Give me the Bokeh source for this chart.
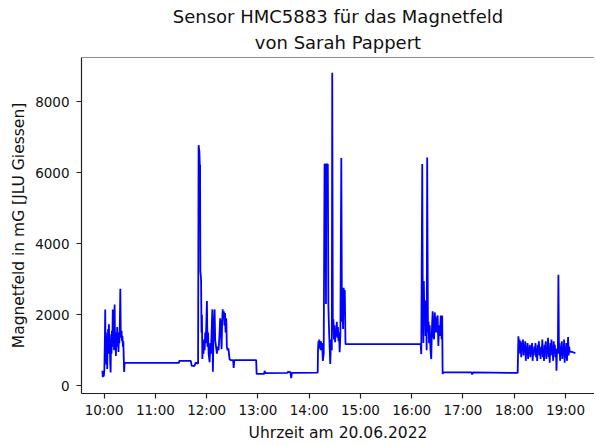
import pandas as pd
from bokeh.plotting import figure
from bokeh.models import FixedTicker, DatetimeTickFormatter, Range1d, Span, Title, ColumnDataSource
from bokeh.embed import file_html
from bokeh.resources import INLINE

DATE = "2022-06-20"
title_line1 = "Sensor HMC5883 für das Magnetfeld"
title_line2 = "von Sarah Pappert"
x_label = "Uhrzeit am 20.06.2022"
y_label = "Magnetfeld in mG [JLU Giessen]"

x_tick_labels = ["10:00", "11:00", "12:00", "13:00", "14:00", "15:00",
                 "16:00", "17:00", "18:00", "19:00"]
y_ticks = [0, 2000, 4000, 6000, 8000]

times = [
    "09:58:00", "09:58:30", "09:59:10", "09:59:40", "10:00:20", "10:01:00", "10:01:20", "10:01:40",
    "10:02:10", "10:02:40", "10:03:10", "10:03:40", "10:04:10", "10:04:40", "10:05:10", "10:05:40",
    "10:06:10", "10:06:40", "10:07:10", "10:07:40", "10:08:10", "10:08:40", "10:09:10", "10:09:40",
    "10:10:10", "10:10:40", "10:11:10", "10:11:40", "10:12:20", "10:12:50", "10:13:20", "10:13:50",
    "10:14:20", "10:14:50", "10:15:20", "10:15:50", "10:16:20", "10:16:50", "10:17:20", "10:17:50",
    "10:18:20", "10:19:00", "10:19:30", "10:20:00", "10:20:30", "10:21:00", "10:21:30", "10:22:00",
    "10:22:30", "10:23:00", "10:23:30", "10:24:00",
    "11:27:30", "11:28:00", "11:41:30", "11:42:30", "11:46:00", "11:47:00",
    "11:50:00", "11:50:36", "11:51:30", "11:52:00", "11:52:20", "11:52:40", "11:53:30", "11:54:00",
    "11:54:30", "11:55:00", "11:55:40", "11:56:20", "11:57:00", "11:57:40", "11:58:20", "11:59:00",
    "12:00:20", "12:01:00", "12:01:40", "12:02:20", "12:03:30", "12:04:20", "12:05:00", "12:06:40",
    "12:07:20", "12:08:00", "12:09:20", "12:10:00", "12:11:00", "12:12:00", "12:13:00", "12:14:00",
    "12:15:10", "12:15:50", "12:16:30", "12:17:30", "12:18:10", "12:18:50", "12:19:30", "12:20:10",
    "12:20:50", "12:21:30", "12:22:10", "12:23:00", "12:23:40", "12:24:30", "12:25:30", "12:26:50",
    "12:28:00", "12:31:00", "12:31:40", "12:32:20", "12:58:00", "12:58:30",
    "13:07:20", "13:07:50", "13:08:30", "13:34:30", "13:35:00", "13:38:00", "13:39:00", "13:39:40",
    "14:10:00", "14:10:20", "14:10:50", "14:11:20", "14:11:50", "14:12:20", "14:12:50", "14:13:20",
    "14:13:50", "14:14:20", "14:14:50", "14:15:20", "14:16:00", "14:17:00", "14:18:00", "14:19:20",
    "14:19:40", "14:20:00", "14:21:50", "14:22:30", "14:23:20", "14:24:40", "14:25:30", "14:26:30",
    "14:27:00", "14:27:40", "14:28:20", "14:29:00", "14:29:40", "14:30:20", "14:31:00", "14:31:40",
    "14:32:20", "14:33:00", "14:33:40", "14:34:20", "14:35:00", "14:35:40", "14:36:30", "14:37:36",
    "14:38:20", "14:39:00", "14:39:40", "14:40:20", "14:41:00", "14:41:40", "14:42:30",
    "16:10:30", "16:11:10", "16:12:20", "16:13:00", "16:13:40", "16:14:10", "16:14:50", "16:15:30",
    "16:16:10", "16:16:50", "16:17:30", "16:18:06", "16:19:00", "16:19:40", "16:20:20", "16:21:00",
    "16:22:00", "16:22:50", "16:23:40", "16:24:30", "16:25:20", "16:26:10", "16:27:00", "16:27:50",
    "16:28:40", "16:29:30", "16:30:20", "16:31:10", "16:32:00", "16:33:00", "16:34:00", "16:35:00",
    "16:35:40", "16:36:10", "16:37:00", "17:10:00", "17:10:50", "17:11:40", "18:04:00", "18:04:50",
    "18:05:30", "18:06:10", "18:06:50", "18:07:30", "18:08:10", "18:08:50", "18:09:30", "18:10:10",
    "18:10:50", "18:11:30", "18:12:10", "18:12:50", "18:13:30", "18:14:10", "18:14:50", "18:15:30",
    "18:16:10", "18:16:50", "18:17:30", "18:18:10", "18:18:50", "18:19:30", "18:20:10", "18:20:50",
    "18:21:30", "18:22:10", "18:22:50", "18:23:30", "18:24:10", "18:24:50", "18:25:30", "18:26:10",
    "18:26:50", "18:27:30", "18:28:10", "18:28:50", "18:29:30", "18:30:10", "18:30:50", "18:31:30",
    "18:32:10", "18:32:50", "18:33:30", "18:34:10", "18:34:50", "18:35:30", "18:36:10", "18:36:50",
    "18:37:30", "18:38:10", "18:38:50", "18:39:30", "18:40:10", "18:40:50", "18:41:30", "18:42:10",
    "18:42:50", "18:43:30", "18:44:10", "18:44:50", "18:45:30", "18:46:10", "18:46:50", "18:47:30",
    "18:48:10", "18:48:50", "18:49:25", "18:50:00", "18:51:00", "18:51:40", "18:52:20", "18:53:00",
    "18:53:40", "18:54:20", "18:55:00", "18:55:40", "18:56:20", "18:57:00", "18:57:40", "18:58:20",
    "18:59:00", "18:59:40", "19:00:20", "19:01:00", "19:01:40", "19:02:20", "19:03:00", "19:03:40",
    "19:04:20", "19:04:40", "19:05:30", "19:08:00", "19:11:30",
]

values = [
    420, 240, 380, 260, 450, 1400, 2150, 900,
    1500, 600, 1350, 470, 1200, 1600, 900, 1730,
    1000, 1450, 650, 375, 1300, 900, 1550, 1100,
    2150, 1300, 1700, 1000, 2290, 1200, 1500, 840,
    1400, 1100, 1650, 1250, 1500, 950, 1400, 1200,
    1600, 2730, 1500, 1350, 1550, 1250, 1400, 1100,
    1250, 800, 385, 640,
    640, 700, 700, 560, 560, 650,
    620, 6780, 6600, 6220, 6220, 3230, 3000, 1500,
    2000, 750, 1200, 900, 1300, 1000, 1500, 1200,
    2385, 1100, 1500, 900, 660, 1200, 900, 2150,
    390, 1400, 2150, 1300, 1100, 900, 1100, 1000,
    1500, 1900, 1700, 1030, 1800, 2150, 1900, 2100,
    1700, 2050, 1500, 1900, 1100, 1000, 1050, 750,
    720, 720, 500, 720, 720, 330,
    330, 420, 355, 360, 390, 380, 210, 360,
    370, 1000, 1250, 1050, 1300, 1100, 1220, 1000,
    1250, 1050, 1200, 1100, 700, 900, 6240, 6240,
    2300, 6240, 6240, 2240, 1500, 610, 1300, 1000,
    8820, 1600, 1870, 1300, 1700, 1225, 1600, 1400,
    1800, 1350, 1650, 1250, 1500, 945, 1400, 6420,
    1800, 2200, 1600, 2760, 2500, 2700, 1170,
    1170, 890, 6250, 2000, 1200, 2950, 1900, 2400,
    1400, 2200, 1000, 6430, 1500, 1800, 1200, 1700,
    1000, 750, 1600, 2100, 1400, 1310, 2065, 1700,
    1500, 1900, 1980, 1120, 1700, 1400, 1980, 1310,
    1980, 330, 375, 375, 320, 375, 360, 1390,
    1100, 1300, 900, 1250, 800, 1200, 1000, 1300,
    850, 1150, 950, 1250, 700, 1100, 900, 1200,
    750, 1050, 950, 1150, 800, 1100, 900, 1200,
    700, 1000, 850, 1100, 950, 1200, 800, 1050,
    700, 1150, 900, 1250, 850, 1050, 750, 1100,
    900, 1300, 800, 1000, 700, 1150, 950, 1250,
    750, 1100, 900, 1350, 800, 1050, 650, 1200,
    850, 1300, 900, 1100, 700, 1250, 950, 1150,
    800, 1050, 420, 1000, 900, 3130, 900, 1200,
    700, 1100, 850, 1250, 750, 1050, 900, 1300,
    650, 1100, 800, 1200, 700, 1000, 1370, 850,
    1100, 1000, 950, 950, 920,
]

FONT = "DejaVu Sans"
x = pd.to_datetime([f"{DATE} {t}" for t in times])
src = ColumnDataSource(data=dict(x=x, y=values))

x_start = pd.Timestamp(f"{DATE} 09:33:34")
x_end = pd.Timestamp(f"{DATE} 19:33:54")
ymin, ymax = min(values), max(values)
yr = ymax - ymin
y_start = ymin - 0.05 * yr
y_end = ymax + 0.05 * yr

p = figure(width=594, height=444, x_axis_type="datetime",
           output_backend="svg", toolbar_location=None,
           x_range=Range1d(x_start, x_end), y_range=Range1d(y_start, y_end),
           min_border_left=81, min_border_right=0, min_border_top=57, min_border_bottom=0)

p.line("x", "y", source=src, line_color="#0000ff", line_width=1.8)

p.title.text = title_line1
p.title.align = "center"
p.title.offset = 0
p.title.text_font = FONT
p.title.text_font_size = "18px"
p.title.text_font_style = "normal"
p.title.text_color = "#111111"
p.title.standoff = -4
p.add_layout(Title(text=title_line2, align="center", offset=0, text_font=FONT,
                   text_font_size="18px", text_font_style="normal",
                   text_color="#111111", standoff=10), "above")

p.grid.visible = False
p.outline_line_color = None
p.add_layout(Span(location=y_end, dimension="width", line_color="#222222", line_width=1.2))

tick_ms = [pd.Timestamp(f"{DATE} {t}") for t in x_tick_labels]
p.xaxis.ticker = FixedTicker(ticks=[t.value / 1e6 for t in tick_ms])
p.xaxis.formatter = DatetimeTickFormatter(hours="%H:%M", minutes="%H:%M", hourmin="%H:%M",
                                          days="%H:%M", minsec="%H:%M", seconds="%H:%M")
p.yaxis.ticker = FixedTicker(ticks=y_ticks)
p.xaxis.axis_label = x_label
p.yaxis.axis_label = y_label

for ax in (p.xaxis[0], p.yaxis[0]):
    ax.axis_line_color = "#222222"
    ax.axis_line_width = 1.2
    ax.major_tick_line_color = "#222222"
    ax.major_tick_line_width = 1.2
    ax.major_tick_out = 5
    ax.major_tick_in = 0
    ax.minor_tick_out = 0
    ax.minor_tick_in = 0
    ax.major_label_text_font = FONT
    ax.major_label_text_font_size = "13.5px"
    ax.major_label_text_color = "#111111"
    ax.axis_label_text_font = FONT
    ax.axis_label_text_font_size = "15.5px"
    ax.axis_label_text_font_style = "normal"
    ax.axis_label_text_color = "#111111"

p.xaxis.major_label_standoff = 3
p.xaxis.axis_label_standoff = 3
p.yaxis.major_label_standoff = 7
p.yaxis.axis_label_standoff = 4

open("out.html", "w").write(file_html(p, INLINE))
